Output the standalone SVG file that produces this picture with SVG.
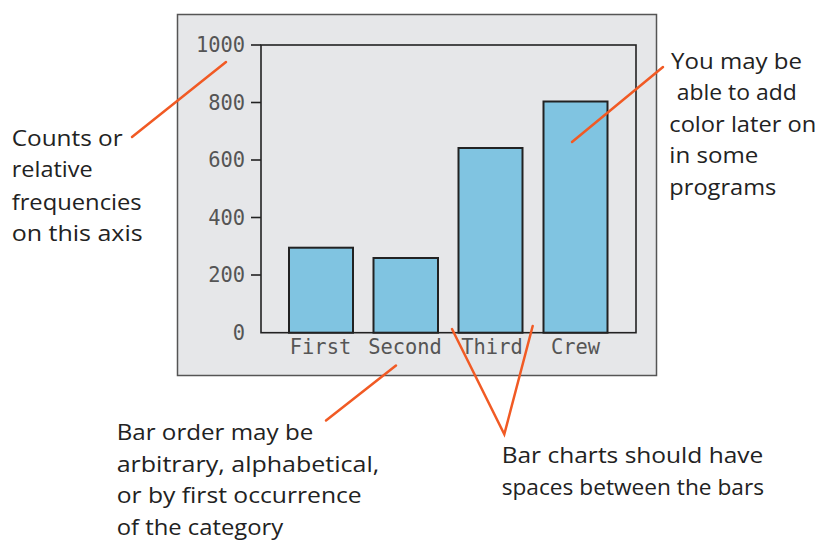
<svg xmlns="http://www.w3.org/2000/svg" width="820" height="543" viewBox="0 0 820 543">
  <style>
    .panel { fill: #e6e7e9; stroke: #555; stroke-width: 1.5; }
    .frame { fill: none; stroke: #222; stroke-width: 1.6; }
    .tick { stroke: #222; stroke-width: 1.6; }
    .bar { fill: #80c4e1; stroke: #222; stroke-width: 2; }
    .axis { font-family: "DejaVu Sans Mono", "Liberation Mono", monospace; font-size: 20.4px; fill: #555; }
    .tl { text-anchor: end; }
    .cat { text-anchor: middle; }
    .note { font-family: "Open Sans", "Noto Sans", "Liberation Sans", sans-serif; font-size: 21px; fill: #222; }
    .lead { stroke: #f15a24; stroke-width: 2.5; fill: none; stroke-linecap: round; }
  </style>
  <rect width="820" height="543" fill="#ffffff"/>
  <g id="chart">
    <rect class="panel" x="177.5" y="14.5" width="479" height="361"/>
    <rect class="frame" x="261" y="45" width="375" height="287.7"/>
    <g id="y-axis">
      <line class="tick" x1="251" y1="45" x2="261" y2="45"/>
      <line class="tick" x1="251" y1="102.5" x2="261" y2="102.5"/>
      <line class="tick" x1="251" y1="160" x2="261" y2="160"/>
      <line class="tick" x1="251" y1="217.5" x2="261" y2="217.5"/>
      <line class="tick" x1="251" y1="275" x2="261" y2="275"/>
      <text class="axis tl" x="245" y="52.4">1000</text>
      <text class="axis tl" x="245" y="109.9">800</text>
      <text class="axis tl" x="245" y="167.4">600</text>
      <text class="axis tl" x="245" y="224.9">400</text>
      <text class="axis tl" x="245" y="282.4">200</text>
      <text class="axis tl" x="245" y="339.9">0</text>
    </g>
    <g id="bar-first">
      <rect class="bar" x="289" y="247.7" width="64" height="85"/>
      <text class="axis cat" x="320.5" y="354">First</text>
    </g>
    <g id="bar-second">
      <rect class="bar" x="373.5" y="258" width="64.5" height="74.7"/>
      <text class="axis cat" x="405" y="354">Second</text>
    </g>
    <g id="bar-third">
      <rect class="bar" x="458.5" y="148" width="64" height="184.7"/>
      <text class="axis cat" x="492" y="354">Third</text>
    </g>
    <g id="bar-crew">
      <rect class="bar" x="543.5" y="101.5" width="64" height="231.2"/>
      <text class="axis cat" x="575.5" y="354">Crew</text>
    </g>
  </g>
  <g id="connectors">
    <line class="lead" x1="226" y1="62" x2="132" y2="137"/>
    <line class="lead" x1="663" y1="67" x2="572" y2="142"/>
    <line class="lead" x1="396" y1="365.5" x2="326" y2="420.5"/>
    <polyline class="lead" points="452,329 504.3,434.3 532.7,326"/>
  </g>
  <g id="note-axis">
    <text class="note" x="11.7" y="145.5" textLength="111" lengthAdjust="spacingAndGlyphs">Counts or</text>
    <text class="note" x="11.7" y="177" textLength="81" lengthAdjust="spacingAndGlyphs">relative</text>
    <text class="note" x="11.7" y="210" textLength="130" lengthAdjust="spacingAndGlyphs">frequencies</text>
    <text class="note" x="11.7" y="241" textLength="131" lengthAdjust="spacingAndGlyphs">on this axis</text>
  </g>
  <g id="note-color">
    <text class="note" x="671" y="69" textLength="131" lengthAdjust="spacingAndGlyphs">You may be</text>
    <text class="note" x="676.7" y="100" textLength="120" lengthAdjust="spacingAndGlyphs">able to add</text>
    <text class="note" x="669.3" y="131.7" textLength="147" lengthAdjust="spacingAndGlyphs">color later on</text>
    <text class="note" x="669.3" y="163" textLength="89" lengthAdjust="spacingAndGlyphs">in some</text>
    <text class="note" x="669.3" y="195" textLength="107" lengthAdjust="spacingAndGlyphs">programs</text>
  </g>
  <g id="note-order">
    <text class="note" x="116.7" y="440" textLength="196.6" lengthAdjust="spacingAndGlyphs">Bar order may be</text>
    <text class="note" x="116.7" y="471.7" textLength="262.6" lengthAdjust="spacingAndGlyphs">arbitrary, alphabetical,</text>
    <text class="note" x="116.7" y="503.3" textLength="245" lengthAdjust="spacingAndGlyphs">or by first occurrence</text>
    <text class="note" x="116.7" y="535" textLength="166.6" lengthAdjust="spacingAndGlyphs">of the category</text>
  </g>
  <g id="note-spaces">
    <text class="note" x="501.7" y="463.3" textLength="261.6" lengthAdjust="spacingAndGlyphs">Bar charts should have</text>
    <text class="note" x="501.7" y="495" textLength="262.3" lengthAdjust="spacingAndGlyphs">spaces between the bars</text>
  </g>
</svg>
